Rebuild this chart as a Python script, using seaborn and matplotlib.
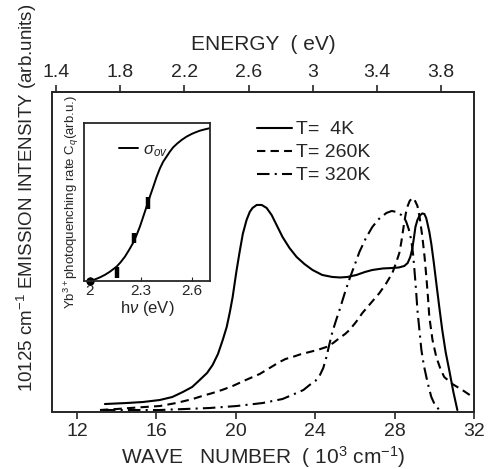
import numpy as np
import pandas as pd
import matplotlib
matplotlib.use("Agg")
import matplotlib.pyplot as plt
import seaborn as sns

sns.set_style("ticks")
plt.rcParams["font.family"] = ["Liberation Sans", "DejaVu Sans"]
plt.rcParams["mathtext.fontset"] = "custom"
plt.rcParams["mathtext.rm"] = "Liberation Sans"
plt.rcParams["mathtext.it"] = "Liberation Sans:italic"

# ---- main spectra (wave number 10^3 cm^-1, intensity arb. units) ----
k_4K = [13.41, 14.5, 15.32, 16.17, 16.8, 17.33, 17.8, 18.18, 18.55, 18.83, 19.1,
        19.34, 19.54, 19.7, 19.84, 19.95, 20.04, 20.19, 20.35, 20.54, 20.7, 20.84,
        21.05, 21.30, 21.55, 21.80, 22.05, 22.35, 22.7, 23.06, 23.45, 23.86, 24.35,
        24.86, 25.25, 25.62, 26.07, 26.5, 26.87, 27.4, 27.88, 28.2, 28.48, 28.65,
        28.78, 28.88, 28.97, 29.04, 29.14, 29.24, 29.38, 29.49, 29.58, 29.64, 29.74,
        29.84, 29.96, 30.09, 30.24, 30.39, 30.56, 30.74, 30.95, 31.15]
I_4K = [8, 9, 10, 12, 15, 20, 25, 32, 39, 47, 58,
        72, 85, 100, 115, 130, 142, 160, 178, 192, 200, 204,
        207, 207, 204, 197, 187, 175, 164, 155, 148, 142, 137,
        135, 134.5, 135, 137, 140, 142, 143.5, 144, 144.5, 146, 149,
        155, 163, 175, 185, 192, 196, 198.5, 198, 194, 189, 180,
        168, 150, 129, 105, 82, 60, 42, 20, 2]

k_260K = [13.16, 14.0, 14.66, 15.4, 16.17, 17.0, 17.83, 18.3, 18.83, 19.3, 19.84,
          20.5, 21.20, 21.7, 22.20, 22.5, 22.85, 23.3, 23.71, 24.1, 24.56, 24.9,
          25.22, 25.5, 25.72, 26.05, 26.37, 26.8, 27.23, 27.55, 27.88, 28.08, 28.23,
          28.33, 28.45, 28.55, 28.63, 28.75, 28.88, 29.0, 29.14, 29.25, 29.39, 29.5,
          29.59, 29.67, 29.74, 29.9, 30.09, 30.3, 30.49, 30.9, 31.40, 31.7, 32.0]
I_260K = [2, 3, 4, 5, 6, 9, 13, 16, 19, 22, 26,
          32, 38, 44, 50, 53, 55, 58, 60, 62, 65, 69,
          74, 78, 82, 90, 99, 109, 119, 128, 139, 150, 159,
          170, 186, 198, 205, 211, 214, 212, 206, 195, 175, 155,
          135, 115, 95, 72, 55, 43, 35, 28, 22, 18, 14]

k_320K = [13.31, 16.17, 18.68, 20.04, 21.35, 22.35, 23.06, 23.4, 23.71, 24.0, 24.21,
          24.4, 24.56, 24.7, 24.86, 25.05, 25.22, 25.5, 25.72, 26.0, 26.22, 26.55,
          26.87, 27.2, 27.58, 27.85, 28.08, 28.33, 28.48, 28.58, 28.7, 28.83, 28.92,
          28.99, 29.07, 29.14, 29.24, 29.34, 29.46, 29.59, 29.72, 29.84, 30.0, 30.24]
I_320K = [2, 2, 4, 6, 9, 13, 19, 22, 27, 31, 36,
          44, 55, 67, 80, 92, 102, 120, 133, 148, 160, 174,
          185, 193, 199, 201, 200, 197, 194, 190, 183, 172, 158,
          142, 122, 102, 82, 62, 47, 35, 24, 15, 8, 2]

series_labels = ["T=  4K", "T= 260K", "T= 320K"]

# ---- inset: photoquenching rate vs photon energy ----
hv_curve = [2.0, 2.03, 2.059, 2.09, 2.118, 2.157, 2.18, 2.206, 2.23, 2.255, 2.275,
            2.294, 2.313, 2.333, 2.353, 2.373, 2.392, 2.412, 2.431, 2.451, 2.470,
            2.490, 2.515, 2.539, 2.568, 2.598, 2.622, 2.647, 2.675, 2.702]
cq_curve = [0.0, 0.010, 0.023, 0.040, 0.059, 0.091, 0.118, 0.154, 0.196, 0.243, 0.292,
            0.344, 0.405, 0.470, 0.535, 0.597, 0.658, 0.713, 0.755, 0.787, 0.818,
            0.846, 0.871, 0.892, 0.913, 0.930, 0.941, 0.951, 0.959, 0.966]
hv_pts = [2.157, 2.261, 2.339]
cq_pts = [0.052, 0.270, 0.494]
cq_err = [0.035, 0.032, 0.040]

energy_ticks = [1.4, 1.8, 2.2, 2.6, 3.0, 3.4, 3.8]
energy_labels = ["1.4", "1.8", "2.2", "2.6", "3", "3.4", "3.8"]

fig = plt.figure(figsize=(4.94, 4.69), dpi=100)
ax = fig.add_axes([0.105, 0.1215, 0.855, 0.6825])

lw = 1.5
sns.lineplot(x=k_4K, y=I_4K, ax=ax, color="black", lw=lw, label=series_labels[0])
sns.lineplot(x=k_260K, y=I_260K, ax=ax, color="black", lw=lw,
             label=series_labels[1]).lines[-1].set_dashes((4, 2.5))
sns.lineplot(x=k_320K, y=I_320K, ax=ax, color="black", lw=lw,
             label=series_labels[2]).lines[-1].set_dashes((6, 2.5, 1, 2.5))

ax.set_xlim(10.74, 32)
ax.set_ylim(0, 320)
ax.set_xticks([12, 16, 20, 24, 28, 32])
ax.set_yticks([])
ax.tick_params(axis="x", direction="out", length=5, width=1.2, labelsize=14, pad=3)
for s in ax.spines.values():
    s.set_linewidth(1.4)
ax.set_xlabel("WAVE   NUMBER  ( 10$^3$ cm$^{-1}$)", fontsize=15, labelpad=3)

# top energy axis (1 eV = 8.0655 x 10^3 cm^-1)
sec = ax.secondary_xaxis("top", functions=(lambda k: (k + 0.33) / 8.0655,
                                           lambda e: e * 8.0655 - 0.33))
sec.set_xticks(energy_ticks)
sec.set_xticklabels(energy_labels)
sec.tick_params(direction="out", length=5, width=1.2, labelsize=14, pad=3)
sec.spines["top"].set_linewidth(1.4)
sec.set_xlabel("ENERGY  ( eV)", fontsize=15, labelpad=10)

ax.legend(loc="upper left", bbox_to_anchor=(0.486, 0.91), frameon=False,
          fontsize=14, handlelength=1.8, handletextpad=0.2, labelspacing=0.28,
          borderpad=0, borderaxespad=0)

fig.text(0.055, 0.578, "10125 cm$^{-1}$ EMISSION INTENSITY (arb.units)",
         rotation=90, ha="center", va="center", fontsize=13.5)

# ---- inset ----
axi = fig.add_axes([0.170, 0.4009, 0.255, 0.337])
sns.lineplot(x=hv_curve, y=cq_curve, ax=axi, color="black", lw=1.4,
             label=r"$\sigma_{ov}$")
axi.errorbar(hv_pts, cq_pts, yerr=cq_err, fmt="none", ecolor="black",
             elinewidth=3.2, capsize=0)
axi.plot([2.0], [0.0], "o", color="black", ms=5, clip_on=False)
axi.set_xlim(1.965, 2.706)
axi.set_ylim(0, 1)
axi.set_xticks([2.0, 2.3, 2.6])
axi.set_xticklabels(["2", "2.3", "2.6"])
axi.set_yticks([])
axi.tick_params(axis="x", direction="in", length=3, labelsize=11, pad=2)
for s in axi.spines.values():
    s.set_linewidth(1.3)
axi.set_xlabel(r"h$\nu$ (eV)", fontsize=12, labelpad=1)
axi.set_ylabel("Yb$^{3+}$photoquenching rate C$_q$(arb.u.)", fontsize=9.5, labelpad=2)
axi.legend(loc="upper left", bbox_to_anchor=(0.28, 0.88), frameon=False, fontsize=12,
           handlelength=1.1, handletextpad=0.3, borderpad=0, borderaxespad=0)

fig.savefig("out.png", dpi=100)
